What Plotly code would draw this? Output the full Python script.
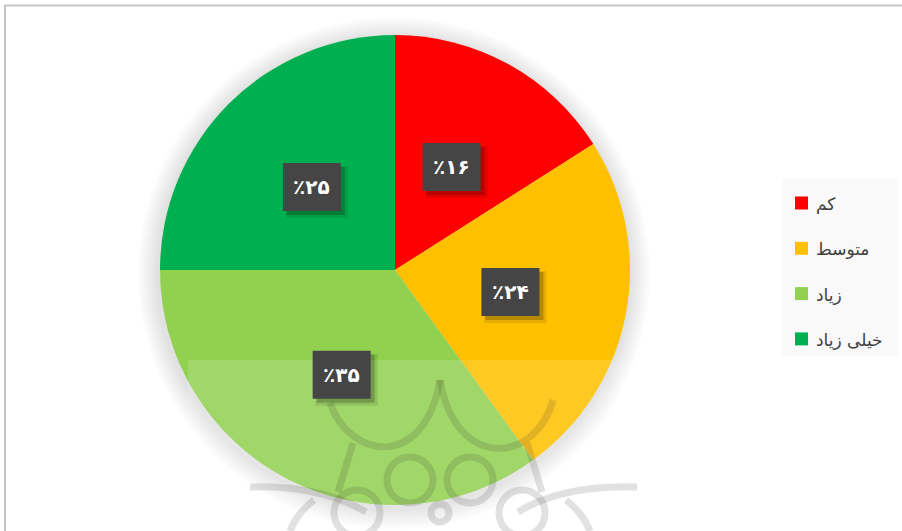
import math
import plotly.graph_objects as go

# ---- data ----
categories = ["کم", "متوسط", "زیاد", "خیلی زیاد"]
values = [16, 24, 35, 25]
colors = ["#FF0000", "#FFC000", "#92D050", "#00B050"]

W, H = 902, 531
CX, CY, R = 395, 270, 235  # pie centre / radius in pixels


def px(x):
    return x / W


def py(y):
    return 1 - y / H


def fa_digits(n):
    return str(n).translate(str.maketrans("0123456789", "۰۱۲۳۴۵۶۷۸۹"))


fig = go.Figure()
fig.add_trace(go.Pie(
    labels=categories,
    values=values,
    marker=dict(colors=colors, line=dict(width=0)),
    sort=False,
    direction="clockwise",
    rotation=0,
    textinfo="none",
    hoverinfo="label+percent",
    showlegend=False,
    domain=dict(x=[px(CX - R), px(CX + R)], y=[py(CY + R), py(CY - R)]),
))

shapes = []
# outer frame
shapes.append(dict(type="rect", xref="paper", yref="paper",
                   x0=px(5), x1=px(912), y0=py(541), y1=py(5.5),
                   line=dict(color="#C4C4C4", width=2), layer="below"))
# soft shadow around the pie
for d in range(20, 0, -2):
    shapes.append(dict(type="circle", xref="paper", yref="paper",
                       x0=px(CX - R - d - 2), x1=px(CX + R + d),
                       y0=py(CY + 4 + R + d), y1=py(CY + 2 - R - d),
                       fillcolor="rgba(0,0,0,0.010)", line=dict(width=0),
                       layer="below"))

# watermark overlay (semi-transparent panel + rosette strokes)
shapes.append(dict(type="rect", xref="paper", yref="paper",
                   x0=px(188), x1=px(640), y0=py(531), y1=py(360),
                   fillcolor="rgba(255,255,255,0.14)", line=dict(width=0),
                   layer="above"))
wm = dict(color="rgba(40,40,40,0.14)", width=7)


def pth(cmd, pts):
    out = []
    for c, seg in zip(cmd, pts):
        out.append(c + " " + " ".join("%f,%f" % (px(x), py(y)) for x, y in seg))
    return " ".join(out)


wm_paths = [
    pth("MC", [[(330, 403)], [(350, 460), (425, 470), (440, 380)]]),
    pth("MC", [[(440, 380)], [(455, 470), (535, 465), (553, 400)]]),
    pth("MQ", [[(250, 487)], [(320, 485), (366, 512)]]),
    pth("MQ", [[(637, 487)], [(562, 485), (518, 512)]]),
    pth("ML", [[(353, 443)], [(338, 492)]]),
    pth("ML", [[(527, 443)], [(542, 492)]]),
    pth("MQ", [[(314, 500)], [(298, 512), (290, 531)]]),
    pth("MQ", [[(566, 500)], [(582, 512), (590, 531)]]),
]
for p in wm_paths:
    shapes.append(dict(type="path", xref="paper", yref="paper",
                       path=p, line=wm, layer="above"))
rings = [(410, 480, 23), (470, 480, 23), (357, 513, 23), (522, 513, 23), (440, 513, 9)]
for x, y, r in rings:
    shapes.append(dict(type="circle", xref="paper", yref="paper",
                       x0=px(x - r), x1=px(x + r), y0=py(y + r), y1=py(y - r),
                       line=wm, layer="above"))

# legend panel
shapes.append(dict(type="rect", xref="paper", yref="paper",
                   x0=px(782), x1=px(898), y0=py(356), y1=py(178),
                   fillcolor="#F9F9F9", line=dict(width=0), layer="below"))

annotations = []
legend_y0, legend_dy = 203, 45.3
for i, (cat, col) in enumerate(zip(categories, colors)):
    yc = legend_y0 + i * legend_dy
    shapes.append(dict(type="rect", xref="paper", yref="paper",
                       x0=px(795), x1=px(808), y0=py(yc + 6.5), y1=py(yc - 6.5),
                       fillcolor=col, line=dict(width=0), layer="above"))
    annotations.append(dict(text=cat, xref="paper", yref="paper",
                            x=px(814), y=py(yc + 1), xanchor="left", yanchor="middle",
                            showarrow=False,
                            font=dict(family="DejaVu Sans", size=17, color="#404040")))

# slice labels in dark boxes (box + drop shadow as shapes, text as annotation)
BW, BH = 58, 48
total = sum(values)
cum = 0
for v in values:
    ang = (cum + v / 2) / total * 2 * math.pi
    cum += v
    lx = CX + 0.5 * R * math.sin(ang)
    ly = CY - 0.5 * R * math.cos(ang)
    for off, grow, a in [(5, 2, 0.10), (4, 0, 0.20)]:
        shapes.append(dict(type="rect", xref="paper", yref="paper",
                           x0=px(lx - BW / 2 + off - grow), x1=px(lx + BW / 2 + off + grow),
                           y0=py(ly + BH / 2 + off + grow), y1=py(ly - BH / 2 + off - grow),
                           fillcolor="rgba(0,0,0,%s)" % a, line=dict(width=0),
                           layer="above"))
    shapes.append(dict(type="rect", xref="paper", yref="paper",
                       x0=px(lx - BW / 2), x1=px(lx + BW / 2),
                       y0=py(ly + BH / 2), y1=py(ly - BH / 2),
                       fillcolor="#454545", line=dict(width=0), layer="above"))
    annotations.append(dict(text="<b>٪" + fa_digits(v) + "</b>", xref="paper", yref="paper",
                            x=px(lx), y=py(ly), xanchor="center", yanchor="middle",
                            showarrow=False,
                            font=dict(family="DejaVu Sans", size=20, color="#FFFFFF")))

fig.update_layout(
    width=W, height=H,
    margin=dict(l=0, r=0, t=0, b=0),
    paper_bgcolor="#FFFFFF",
    plot_bgcolor="#FFFFFF",
    showlegend=False,
    shapes=shapes,
    annotations=annotations,
)

fig.write_html("out.html", config={"displayModeBar": False},
               post_script="document.body.style.margin='0px';")
